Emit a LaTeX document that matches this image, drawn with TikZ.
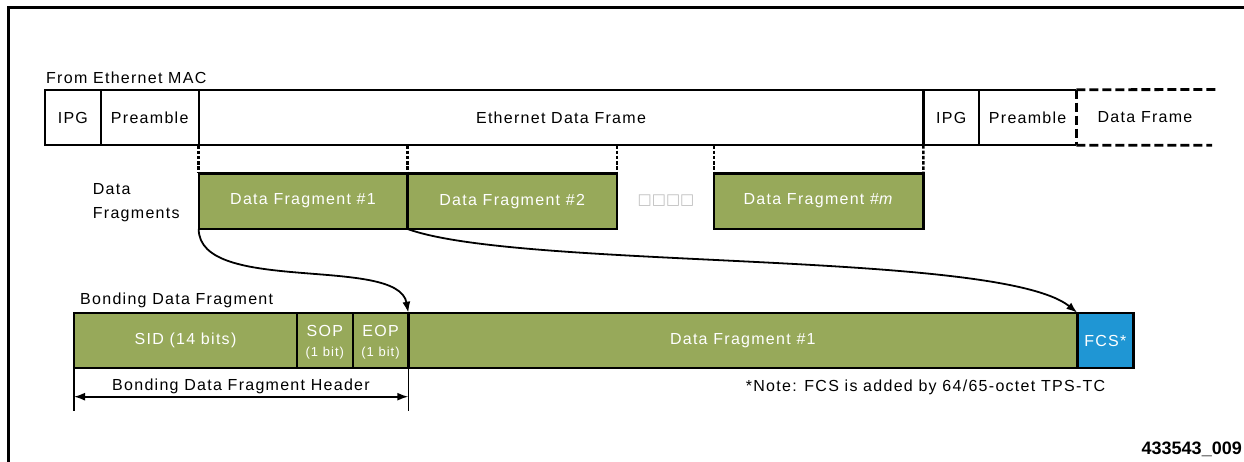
\documentclass[tikz,border=0pt]{standalone}
\usepackage{fontspec}
\setmainfont{Liberation Sans}
\newfontfamily\lbl{Liberation Sans}[LetterSpace=8]
\newfontfamily\symfont{DejaVu Sans}
\usetikzlibrary{arrows.meta}
\definecolor{fraggreen}{HTML}{97A95A}
\definecolor{fcsblue}{HTML}{1F96D4}
\definecolor{glyphgray}{HTML}{BDBDBD}
\tikzset{
  txt/.style={font=\lbl\fontsize{16}{19}\selectfont, inner sep=0pt},
  smalltxt/.style={font=\lbl\fontsize{13}{15}\selectfont, inner sep=0pt},
  field/.style={draw=black, line width=2.4pt, outer sep=0pt, inner sep=0pt,
    txt, minimum height=55.5pt},
  fragbox/.style={field, fill=fraggreen, text=white},
  fcsbox/.style={field, fill=fcsblue, text=white},
  bareline/.style={draw=black, line width=2.4pt},
  linkdash/.style={draw=black, line width=2.6pt, dash pattern=on 3.5pt off 1.8pt},
  framedash/.style={draw=black, line width=2.8pt, dash pattern=on 9pt off 4pt},
  flow/.style={draw=black, line width=1.8pt, -{Latex[length=11pt,width=8pt]}},
  span/.style={draw=black, line width=1.6pt, {Latex[length=11pt,width=8pt]}-{Latex[length=11pt,width=8pt]}},
}
\begin{document}
\begin{tikzpicture}[x=1pt,y=-1pt]
\useasboundingbox (0,0) rectangle (1244,462);

% outer figure frame
\draw[line width=3pt] (8,470) -- (8,8) -- (1250,8);

% --- Ethernet MAC stream ---
\node[txt, anchor=west] (maclbl) at (46,77.5) {From Ethernet MAC};
\node[field, minimum width=55.7pt] (ipga) at (72.85,117.5) {IPG};
\node[field, minimum width=98pt] (prea) at (149.7,117.5) {Preamble};
\node[field, minimum width=724.6pt] (edf) at (561,117.5) {Ethernet Data Frame};
\node[field, minimum width=55.7pt] (ipgb) at (951.15,117.5) {IPG};
\node[txt, minimum width=97.3pt, minimum height=55.5pt, outer sep=0pt] (preb) at (1027.65,117.5) {Preamble};
\draw[bareline] (preb.south east) -- (preb.south west) -- (preb.north west) -- (preb.north east);
\draw[framedash] (preb.north east) -- (preb.south east);
\coordinate (nexttop) at (1217,89.5);
\coordinate (nextbot) at (1212,145.3);
\draw[framedash] (preb.north east) -- (nexttop);
\draw[framedash] (preb.south east) -- (nextbot);
\node[txt] (nextframe) at (1145,117.5) {Data Frame};

% --- data fragments ---
\node[txt, anchor=west, align=left] (fraglbl) at (92.7,203) {Data\\[5pt]Fragments};
\node[fragbox, minimum width=208.6pt] (fa) at (303,201.15) {Data Fragment \#1};
\node[fragbox, minimum width=209.7pt] (fb) at (512.15,201.15) {Data Fragment \#2};
\node[inner sep=0pt, text=glyphgray, font=\symfont\fontsize{15}{17}\selectfont] (gap) at (666,201) {□□□□};
\node[fragbox, minimum width=209.3pt] (fm) at (818.65,201.15) {Data Fragment \#\textit{m}};

\draw[linkdash] (edf.south west) -- (fa.north west);
\draw[linkdash] (fa.north east |- edf.south) -- (fa.north east);
\draw[linkdash] (fb.north east |- edf.south) -- (fb.north east);
\draw[linkdash] (fm.north west |- edf.south) -- (fm.north west);
\draw[linkdash] (edf.south east) -- (fm.north east);

% --- bonding data fragment ---
\node[txt, anchor=west] (bdflbl) at (80,300.7) {Bonding Data Fragment};
\node[fragbox, minimum width=223pt] (sid) at (185.5,340.5) {SID (14 bits)};
\node[fragbox, minimum width=55.7pt] (sop) at (324.85,340.5) {};
\node[txt, text=white] at (324.85,330.5) {SOP};
\node[smalltxt, text=white] at (324.85,353) {(1 bit)};
\node[fragbox, minimum width=55.6pt] (eop) at (380.5,340.5) {};
\node[txt, text=white] at (380.5,330.5) {EOP};
\node[smalltxt, text=white] at (380.5,353) {(1 bit)};
\node[fragbox, minimum width=669pt] (payload) at (742.8,340.5) {Data Fragment \#1};
\node[fcsbox, minimum width=56pt] (fcs) at (1105.3,340.5) {FCS*};

% mapping of fragments into the bonding frame
\draw[flow] (fa.south west) .. controls (198.7,295) and (398,255) .. (eop.north east);
\draw[flow] (fb.south west) .. controls (520,270) and (1000,250) .. (payload.north east);

% header extent
\coordinate (hdl) at (74,410.7);
\coordinate (hdr) at (408.3,410.7);
\draw[bareline, line width=1.6pt] (sid.south west) -- (hdl);
\draw[bareline, line width=1.6pt] (eop.south east) -- (hdr);
\draw[span] (74,396.7) -- (408.3,396.7);
\node[txt] (hdrlbl) at (241,386.5) {Bonding Data Fragment Header};

\node[txt, anchor=west] (note) at (745.7,387.7) {*Note: FCS is added by 64/65-octet TPS-TC};
\node[inner sep=0pt, anchor=east, font=\bfseries\fontsize{18}{21}\selectfont] (figid) at (1242,449) {433543\_009};
\end{tikzpicture}
\end{document}
